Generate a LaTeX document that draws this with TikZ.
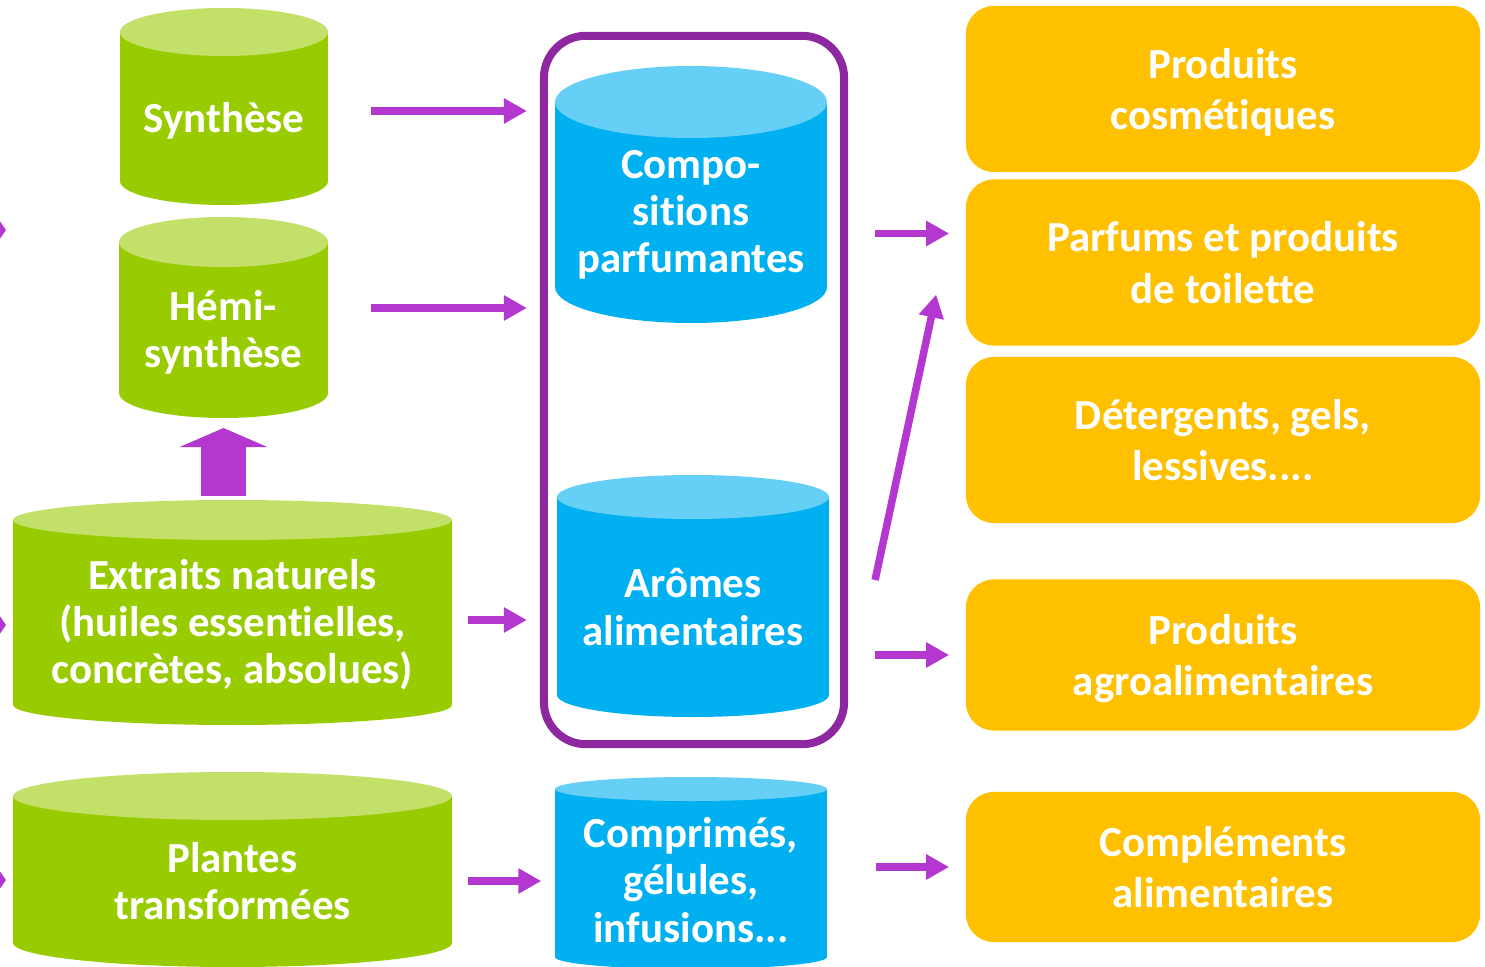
\documentclass[tikz,border=0pt]{standalone}
\usepackage{fontspec}
\setmainfont{Carlito}[Ligatures={NoCommon,NoContextual},RawFeature={-liga;-clig;-calt;-dlig}]
\usetikzlibrary{arrows.meta,positioning}

\definecolor{leaf}{RGB}{153,204,0}
\definecolor{leaflid}{RGB}{195,224,105}
\definecolor{sky}{RGB}{0,176,240}
\definecolor{skylid}{RGB}{102,207,245}
\definecolor{amber}{RGB}{255,192,0}
\definecolor{plum}{RGB}{142,40,160}
\definecolor{orchid}{RGB}{180,55,208}

\newcommand{\tank}[9]{%
  \fill[#7] (#2,#4) rectangle (#3,#5);
  \fill[#7] ({(#2+#3)/2},#5) ellipse [x radius={(#3-#2)/2}, y radius=#6];
  \fill[#7lid] ({(#2+#3)/2},#4) ellipse [x radius={(#3-#2)/2}, y radius=#6];
  \coordinate (#1 top) at ({(#2+#3)/2},{#4-#6});
  \coordinate (#1 bot) at ({(#2+#3)/2},{#5+#6});
  \node[tanktext,minimum width={(#3-#2)*0.01cm}] (#1) at ({(#2+#3)/2},#8) {#9};
}

\begin{document}
\begin{tikzpicture}[x=0.01cm,y=-0.01cm,
    tanktext/.style={text=white,font=\bfseries\fontsize{12.2}{13.4}\selectfont,align=center,inner sep=0pt},
    outlet/.style={fill=amber,rounded corners=0.28cm,minimum width=5.14cm,text=white,text depth=0pt,
      font=\bfseries\fontsize{12.2}{14.6}\selectfont,align=center},
    flow/.style={draw=orchid,line width=0.075cm,-{Triangle[length=0.23cm,width=0.24cm]}},
    stub/.style={draw=orchid,line width=0.075cm,-{Triangle[length=0.12cm,width=0.34cm]}}]
  \clip (0,0) rectangle (1485,967);

  \tank{syn}{120}{328}{32}{181}{24}{leaf}{121}{Synthèse}
  \tank{hemi}{119}{328}{242}{393}{25}{leaf}{332}{Hémi-\\synthèse}
  \tank{ext}{13}{452}{520}{705}{20}{leaf}{625}{Extraits naturels\\(huiles essentielles,\\concrètes, absolues)}
  \tank{pla}{13}{452}{796}{943}{24}{leaf}{881}{Plantes\\transformées}
  \tank{cmp}{555}{827}{102}{287}{36}{sky}{215}{Compo-\\sitions\\parfumantes}
  \tank{aro}{557}{829}{497}{695}{22}{sky}{607}{Arômes\\alimentaires}
  \tank{gel}{555}{827}{789}{957}{12}{sky}{880}{Comprimés,\\gélules,\\infusions...}

  \node[draw=plum,line width=0.08cm,rounded corners=0.42cm,minimum width=3cm,minimum height=7.08cm] (grp) at (694,390) {};

  \node[outlet,minimum height=1.66cm] (cos) at (1223,89) {Produits\\cosmétiques};
  \node[outlet,minimum height=1.66cm,below=0.06cm of cos] (par) {Parfums et produits\\de toilette};
  \node[outlet,minimum height=1.66cm,below=0.1cm of par] (det) {Détergents, gels,\\lessives....};
  \node[outlet,minimum height=1.51cm] (agro) at (1223,655) {Produits\\agroalimentaires};
  \node[outlet,minimum height=1.5cm] (comp) at (1223,867) {Compléments\\alimentaires};

  \coordinate (in1) at (6,230);
  \coordinate (in2) at (6,625);
  \coordinate (in3) at (6,880);

  \draw[flow,line width=0.44cm,-{Triangle[length=0.19cm,width=0.87cm]},shorten <=0.04cm,shorten >=0.1cm]
    (hemi bot |- ext top) -- (hemi bot);
  \draw[flow,shorten <=0.42cm,shorten >=0.13cm] ([yshift=0.1cm]syn.east) -- ([yshift=0.1cm]syn.east -| grp.west);
  \draw[flow,shorten <=0.42cm,shorten >=0.13cm] ([yshift=0.24cm]hemi.east) -- ([yshift=0.24cm]hemi.east -| grp.west);
  \draw[flow,shorten <=0.15cm,shorten >=0.13cm] ([yshift=0.05cm]ext.east) -- ([yshift=0.05cm]ext.east -| grp.west);
  \draw[flow,shorten <=0.15cm,shorten >=0.13cm] (pla.east) -- (pla.east -| gel.west);
  \draw[flow,shorten <=0.27cm,shorten >=0.16cm] ([yshift=0.29cm]par.west -| grp.east) -- ([yshift=0.29cm]par.west);
  \draw[flow] ([xshift=0.27cm,yshift=0.27cm]aro.east -| grp.east) -- ([xshift=-0.29cm,yshift=-0.32cm]par.west);
  \draw[flow,shorten <=0.27cm,shorten >=0.16cm] (agro.west -| grp.east) -- (agro.west);
  \draw[flow,shorten <=0.48cm,shorten >=0.16cm] (comp.west -| gel.east) -- (comp.west);
  \draw[stub] ([xshift=-0.5cm]in1) -- (in1);
  \draw[stub] ([xshift=-0.5cm]in2) -- (in2);
  \draw[stub] ([xshift=-0.5cm]in3) -- (in3);
\end{tikzpicture}
\end{document}
